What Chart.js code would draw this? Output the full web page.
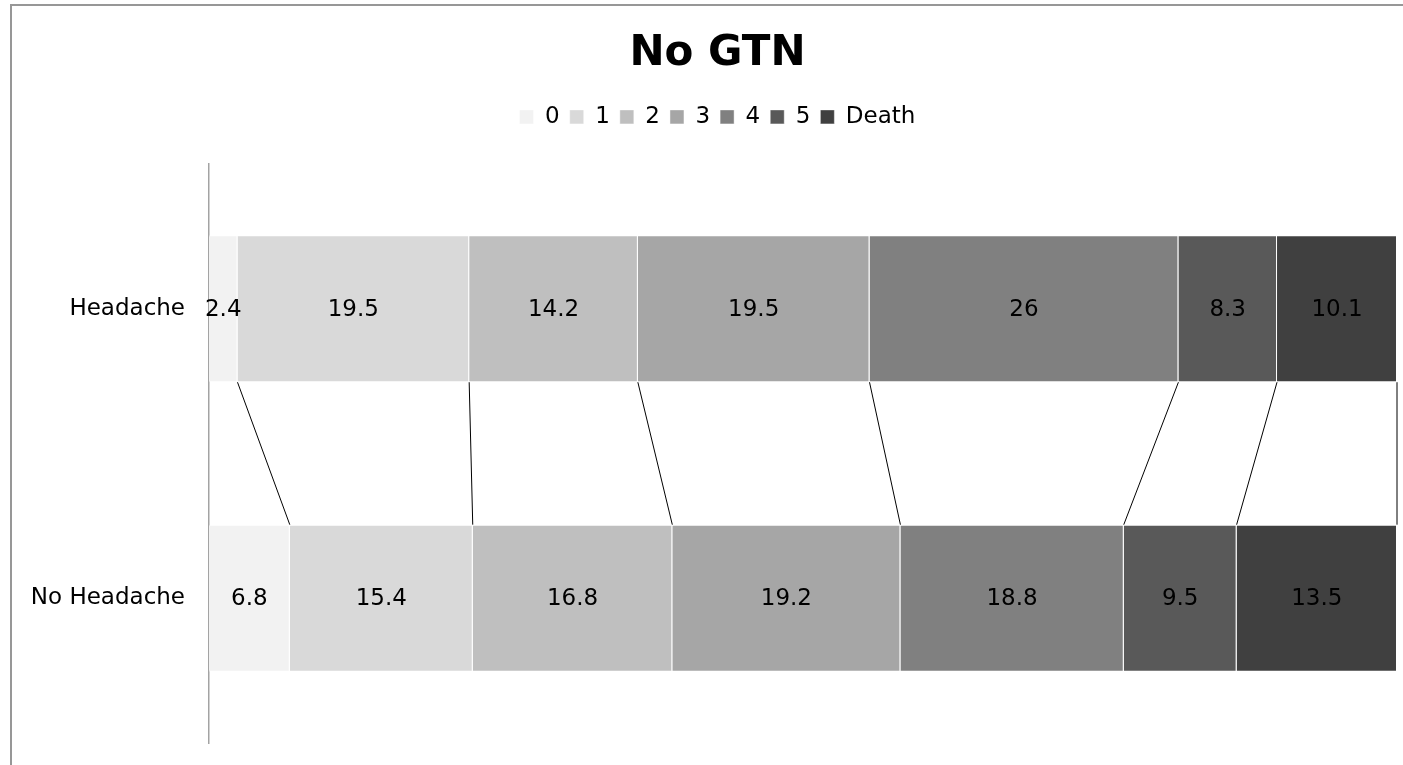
<!DOCTYPE html>
<html>
<head>
<meta charset="utf-8">
<script src="https://cdn.jsdelivr.net/npm/chart.js@4/dist/chart.umd.min.js"></script>
<style>
  html, body { margin: 0; padding: 0; background: #fff; }
  .wrap { position: relative; width: 1403px; height: 765px; overflow: hidden; }
  .frame { position: absolute; left: 10px; top: 4px; width: 1500px; height: 900px;
    border-left: 2px solid #979797; border-top: 2px solid #979797; }
  canvas { position: absolute; left: 0; top: 0; }
</style>
</head>
<body>
<div class="wrap">
  <div class="frame"></div>
  <canvas id="chart" width="1403" height="765"></canvas>
</div>
<script>
// categories and series
const categories = ["Headache", "No Headache"];
const seriesNames = ["0", "1", "2", "3", "4", "5", "Death"];
const seriesColors = ["#f2f2f2", "#d9d9d9", "#bfbfbf", "#a6a6a6", "#808080", "#595959", "#404040"];
const grade0 = [2.4, 6.8];
const grade1 = [19.5, 15.4];
const grade2 = [14.2, 16.8];
const grade3 = [19.5, 19.2];
const grade4 = [26, 18.8];
const grade5 = [8.3, 9.5];
const death = [10.1, 13.5];
const seriesValues = [grade0, grade1, grade2, grade3, grade4, grade5, death];

const FONT = "'DejaVu Sans', Verdana, sans-serif";

// let the long category label run into the left padding instead of being clipped
const unclipLabels = {
  id: "unclipLabels",
  afterLayout(chart) {
    chart.scales.y.left = 0;
  }
};

// Excel style series lines between the two bars
const seriesLines = {
  id: "seriesLines",
  afterDatasetsDraw(chart) {
    const ctx = chart.ctx;
    ctx.save();
    ctx.strokeStyle = "#000";
    ctx.lineWidth = 1;
    chart.data.datasets.forEach((ds, i) => {
      const meta = chart.getDatasetMeta(i);
      const a = meta.data[0].getProps(["x", "y", "height"], true);
      const b = meta.data[1].getProps(["x", "y", "height"], true);
      ctx.beginPath();
      ctx.moveTo(a.x, a.y + a.height / 2);
      ctx.lineTo(b.x, b.y - b.height / 2);
      ctx.stroke();
    });
    ctx.restore();
  }
};

// value labels in the middle of each segment
const valueLabels = {
  id: "valueLabels",
  afterDatasetsDraw(chart) {
    const ctx = chart.ctx;
    ctx.save();
    ctx.font = "23px " + FONT;
    ctx.fillStyle = "#000";
    ctx.textAlign = "center";
    ctx.textBaseline = "middle";
    chart.data.datasets.forEach((ds, i) => {
      chart.getDatasetMeta(i).data.forEach((el, j) => {
        const p = el.getProps(["x", "y", "base"], true);
        ctx.fillText(String(ds.data[j]), (p.x + p.base) / 2, p.y + 1);
      });
    });
    ctx.restore();
  }
};

new Chart(document.getElementById("chart"), {
  type: "bar",
  data: {
    labels: categories,
    datasets: seriesNames.map((name, i) => ({
      label: name,
      data: seriesValues[i],
      backgroundColor: seriesColors[i],
      borderColor: "rgba(255,255,255,0.45)",
      borderWidth: 1,
      barPercentage: 0.508,
      categoryPercentage: 1
    }))
  },
  options: {
    indexAxis: "y",
    responsive: false,
    animation: false,
    layout: { padding: { left: 38, right: 6, top: 0, bottom: 22 } },
    plugins: {
      tooltip: { enabled: false },
      title: {
        display: true,
        text: "No GTN",
        color: "#000",
        font: { family: FONT, size: 42, weight: "bold" },
        padding: { top: 29, bottom: 16 }
      },
      legend: {
        position: "top",
        labels: {
          color: "#000",
          font: { family: FONT, size: 23 },
          boxWidth: 14,
          boxHeight: 14,
          padding: 10
        }
      }
    },
    scales: {
      x: {
        position: "top",
        stacked: true,
        min: 0,
        max: 100,
        grid: { display: false },
        border: { display: false },
        ticks: { display: false },
        afterFit(scale) { scale.height = 25.5; }
      },
      y: {
        stacked: true,
        grid: { display: false },
        border: { display: true, color: "#a3a3a3", width: 1.5 },
        ticks: {
          color: "#000",
          font: { family: FONT, size: 23 },
          padding: 16
        },
        afterFit(scale) {
          scale.width = 171;
          scale.paddingTop = 0;
          scale.paddingBottom = 0;
        }
      }
    }
  },
  plugins: [unclipLabels, seriesLines, valueLabels]
});
</script>
</body>
</html>
